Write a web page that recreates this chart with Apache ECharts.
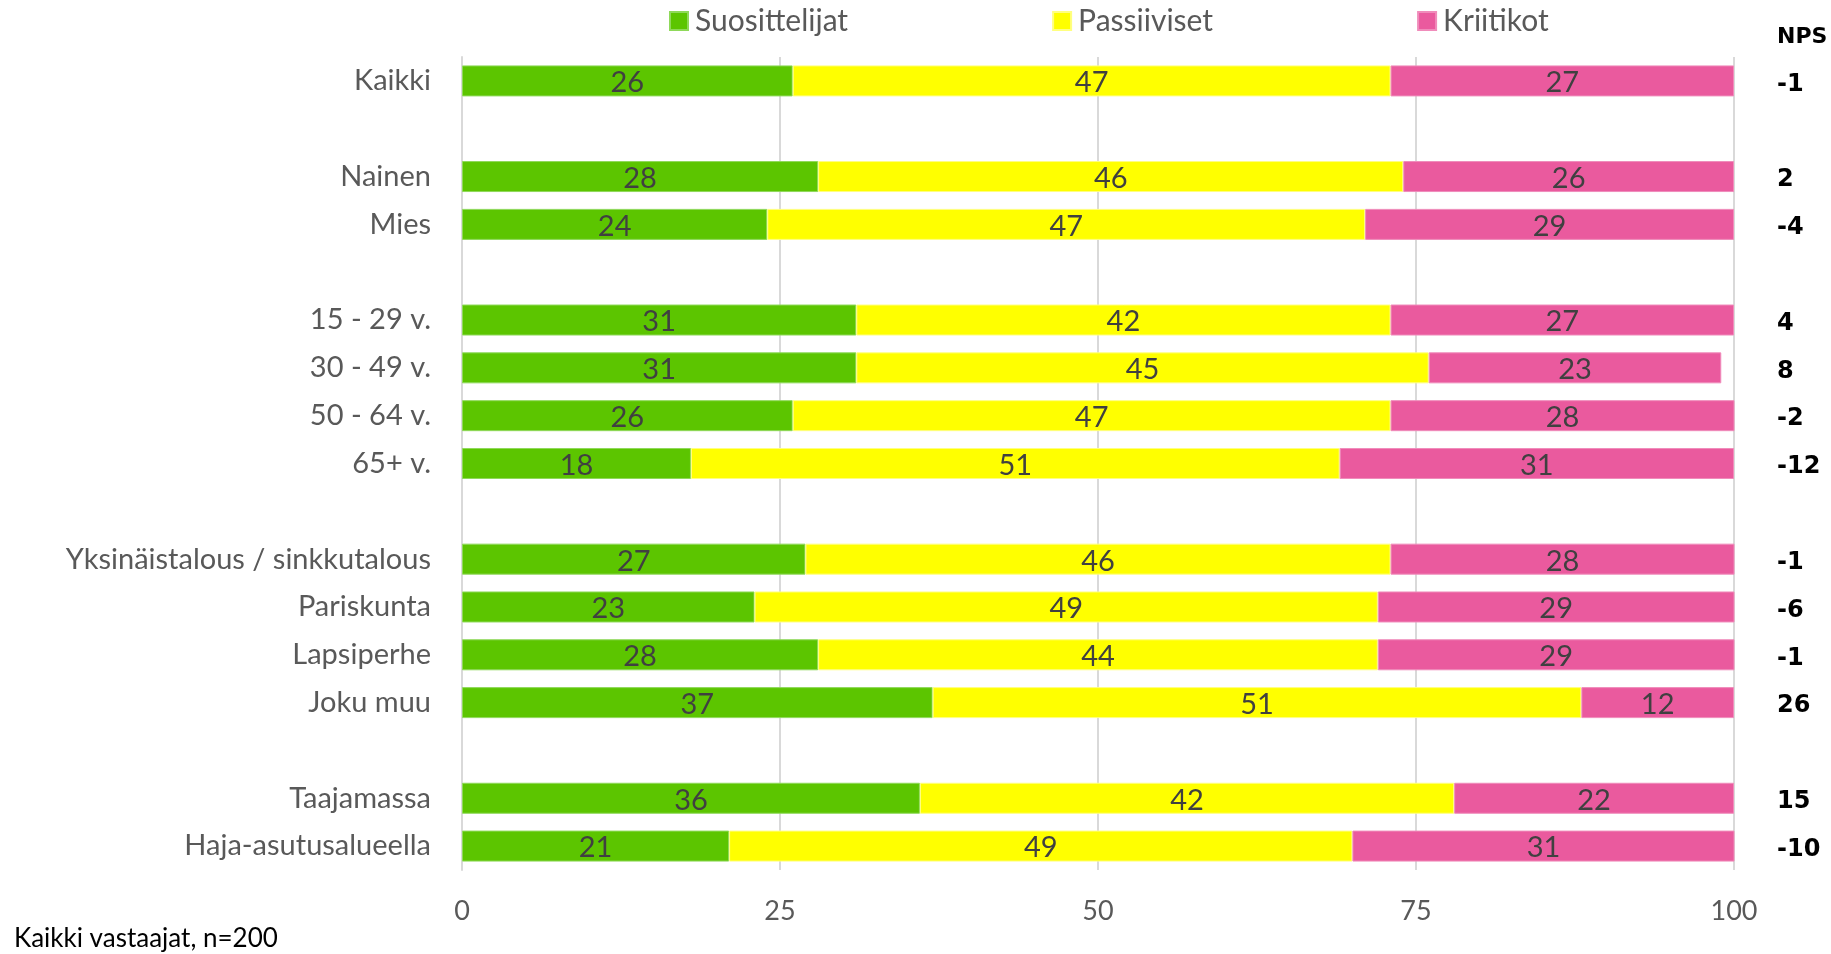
<!DOCTYPE html>
<html>
<head>
<meta charset="utf-8">
<script src="https://cdn.jsdelivr.net/npm/echarts@6/dist/echarts.min.js"></script>
<style>
html,body{margin:0;padding:0;background:#fff;}
#chart{width:1831px;height:954px;}
</style>
</head>
<body>
<div id="chart"></div>
<script>
var categories = ['Kaikki', '', 'Nainen', 'Mies', '', '15 - 29 v.', '30 - 49 v.', '50 - 64 v.', '65+ v.', '', 'Yksinäistalous / sinkkutalous', 'Pariskunta', 'Lapsiperhe', 'Joku muu', '', 'Taajamassa', 'Haja-asutusalueella'];
var suosittelijat = [26, null, 28, 24, null, 31, 31, 26, 18, null, 27, 23, 28, 37, null, 36, 21];
var passiiviset = [47, null, 46, 47, null, 42, 45, 47, 51, null, 46, 49, 44, 51, null, 42, 49];
var kriitikot = [27, null, 26, 29, null, 27, 23, 28, 31, null, 28, 29, 29, 12, null, 22, 31];
var nps = ['-1', '', '2', '-4', '', '4', '8', '-2', '-12', '', '-1', '-6', '-1', '26', '', '15', '-10'];
var xTicks = [0, 25, 50, 75, 100];
var seriesNames = ['Suosittelijat', 'Passiiviset', 'Kriitikot'];
var colors = ['#5CC500', '#FFFF00', '#EA5A9E'];
var footnote = 'Kaikki vastaajat, n=200';
var npsTitle = 'NPS';

var FONT = 'Lato';
var chart = echarts.init(document.getElementById('chart'));
var values = [suosittelijat, passiiviset, kriitikot];
var borderColors = ['#8fd95a', '#ffff80', '#f08cbb'];

var series = seriesNames.map(function (name, i) {
  return {
    name: name,
    type: 'bar',
    stack: 'total',
    barWidth: 31,
    data: values[i],
    itemStyle: { color: colors[i], borderColor: borderColors[i], borderWidth: 1 },
    label: {
      show: true,
      position: 'inside',
      color: '#404040',
      fontFamily: FONT,
      fontSize: 29,
      offset: [0, 2],
      formatter: function (p) { return p.value == null ? '' : p.value; }
    },
    emphasis: { disabled: true }
  };
});

chart.setOption({
  animation: false,
  textStyle: { fontFamily: FONT },
  legend: {
    data: seriesNames,
    top: 1,
    left: 664,
    padding: 5,
    itemWidth: 18,
    itemHeight: 18,
    itemGap: 204,
    icon: 'rect',
    textStyle: { fontSize: 30, color: '#595959', fontFamily: FONT, padding: [0, 0, 0, 2] },
    selectedMode: false
  },
  grid: { left: 462, right: 97, top: 57, bottom: 84, containLabel: false },
  xAxis: {
    type: 'value',
    min: xTicks[0],
    max: xTicks[xTicks.length - 1],
    interval: xTicks[1] - xTicks[0],
    axisLine: { show: false },
    axisTick: { show: false },
    splitLine: { show: true, lineStyle: { color: '#d9d9d9', width: 2 } },
    axisLabel: { color: '#595959', fontSize: 27, fontFamily: FONT, margin: 28 }
  },
  yAxis: [{
    type: 'category',
    data: categories,
    inverse: true,
    axisLine: { show: true, lineStyle: { color: '#d9d9d9', width: 2 } },
    axisTick: { show: false },
    axisLabel: { color: '#595959', fontSize: 29, fontFamily: FONT, margin: 31 }
  }, {
    type: 'category',
    data: nps,
    inverse: true,
    position: 'right',
    axisLine: { show: false },
    axisTick: { show: false },
    axisLabel: { color: '#000000', fontSize: 24, fontWeight: 'bold', fontFamily: 'DejaVu Sans', align: 'left', verticalAlign: 'top', lineHeight: 7, margin: 43 }
  }],
  graphic: [{
    type: 'text',
    left: 1777,
    top: 26,
    style: { text: npsTitle, fill: '#000', font: 'bold 22px "DejaVu Sans"' }
  }, {
    type: 'text',
    left: 14,
    top: 926,
    style: { text: footnote, fill: '#000', font: '26px ' + FONT }
  }],
  series: series
});
</script>
</body>
</html>
